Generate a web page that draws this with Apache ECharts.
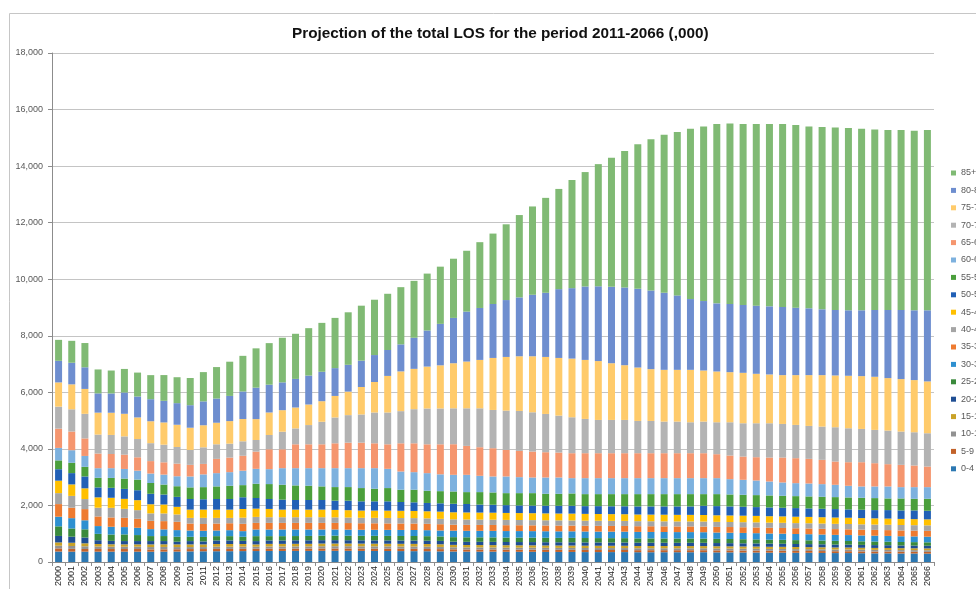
<!DOCTYPE html>
<html>
<head>
<meta charset="utf-8">
<script src="https://cdn.jsdelivr.net/npm/echarts@6/dist/echarts.min.js"></script>
<style>
html,body{margin:0;padding:0;background:#fff;}
#c{width:976px;height:589px;}
</style>
</head>
<body>
<div id="c"></div>
<script>
const years = ['2000','2001','2002','2003','2004','2005','2006','2007','2008','2009',
'2010','2011','2012','2013','2014','2015','2016','2017','2018','2019',
'2020','2021','2022','2023','2024','2025','2026','2027','2028','2029',
'2030','2031','2032','2033','2034','2035','2036','2037','2038','2039',
'2040','2041','2042','2043','2044','2045','2046','2047','2048','2049',
'2050','2051','2052','2053','2054','2055','2056','2057','2058','2059',
'2060','2061','2062','2063','2064','2065','2066'];

const ageGroups = ['0-4','5-9','10-14','15-19','20-24','25-29','30-34','35-39','40-44','45-49','50-54','55-59','60-64','65-69','70-74','75-79','80-84','85+'];

const yTicks = [0,2000,4000,6000,8000,10000,12000,14000,16000,18000];

const age0_4 = [370,365,365,365,365,365,365,363,365,368,375,378,380,382,385,387,390,390,392,392,395,395,395,392,390,388,385,383,380,375,
370,365,365,365,360,360,360,355,355,355,350,350,350,350,345,345,345,345,345,
345,340,340,335,335,330,330,325,325,320,315,315,310,305,305,300,300,295];
const age5_9 = [110,100,95,95,93,93,93,82,82,82,82,79,82,80,80,82,82,82,82,82,82,82,82,82,82,82,82,82,80,80,
78,78,77,77,77,76,76,76,75,75,75,74,74,74,73,73,73,72,72,
72,71,70,70,69,68,68,67,66,66,65,65,64,64,63,63,62,62];
const age10_14 = [95,100,95,85,83,82,82,83,85,78,71,71,78,78,78,70,76,76,76,76,80,80,80,80,80,80,80,80,80,78,
72,72,72,71,71,70,70,70,69,69,69,68,68,68,67,67,67,66,66,
66,66,65,65,64,64,63,63,62,62,61,61,60,60,59,59,58,58];
const age15_19 = [117,115,105,90,85,83,83,93,93,94,93,93,95,95,93,82,92,92,92,92,95,95,95,95,95,95,95,95,95,93,
85,85,85,84,84,84,83,83,83,82,82,82,81,81,81,80,80,80,80,
80,79,78,78,77,76,75,74,73,72,71,70,69,68,67,66,65,65];
const age20_24 = [229,215,205,135,120,117,117,119,115,95,118,107,127,127,110,118,122,122,125,125,120,120,118,118,118,118,118,118,118,118,
113,113,114,114,114,115,115,115,115,116,116,116,116,116,116,116,115,115,115,
115,114,113,112,111,110,108,107,106,105,104,102,101,100,99,97,96,95];
const age25_29 = [340,290,290,225,225,235,212,176,177,176,152,158,152,152,146,175,152,152,150,155,160,160,160,160,160,160,160,160,160,160,
160,160,159,159,158,158,157,157,156,156,155,155,154,154,153,153,152,152,152,
150,148,146,145,143,141,139,137,135,133,131,129,127,126,124,122,121,120];
const age30_34 = [340,365,320,275,275,259,258,246,235,235,223,217,200,211,199,235,235,235,232,227,217,217,215,213,213,213,213,213,212,210,
230,230,230,230,230,230,230,231,231,231,231,230,230,229,229,228,228,227,227,
225,224,223,222,220,219,218,216,215,213,212,210,208,207,205,203,202,200];
const age35_39 = [446,370,395,340,330,329,318,294,293,294,246,241,246,245,259,234,234,234,234,234,234,234,232,230,230,228,228,228,225,222,
210,210,209,209,208,207,206,205,205,204,203,203,202,202,201,201,200,200,200,
200,200,201,201,202,202,202,203,203,203,204,204,204,204,205,205,205,205];
const age40_44 = [388,418,355,310,340,317,305,264,271,258,199,217,199,189,217,211,200,200,200,200,200,195,195,193,193,193,193,193,193,190,
190,189,188,187,186,185,184,183,182,181,180,179,179,178,178,177,177,176,176,
176,177,178,179,180,181,182,183,184,185,186,187,188,189,190,192,193,195];
const age45_49 = [441,405,380,365,355,353,353,322,317,271,293,293,293,293,306,293,293,269,269,269,269,263,260,255,257,259,256,253,250,255,
250,249,248,247,246,245,244,243,242,241,240,239,238,237,236,235,235,234,233,
233,232,231,230,229,228,227,226,225,224,223,222,221,220,218,216,214,212];
const age50_54 = [405,400,420,352,352,352,352,370,352,352,375,364,375,375,416,376,351,352,340,340,340,328,337,327,327,329,312,305,294,294,
301,299,283,281,276,270,270,272,275,278,274,279,278,281,286,290,293,298,299,
326,325,320,316,311,310,306,305,300,299,299,294,295,292,300,301,308,305];
const age55_59 = [312,365,340,340,350,364,376,382,353,376,411,429,446,469,429,504,528,528,516,504,481,480,480,469,446,469,434,446,433,430,
435,421,441,435,425,435,440,422,424,436,425,425,430,430,435,435,435,435,435,
412,424,423,423,424,424,423,423,424,424,423,423,424,424,412,423,411,423];
const age60_64 = [441,445,385,340,345,341,317,334,352,353,387,451,469,481,511,527,528,586,610,622,645,669,669,704,727,680,644,621,622,595,
588,611,576,565,589,565,553,576,576,541,565,565,565,565,565,565,565,565,565,
565,565,541,530,517,494,471,459,458,447,435,412,400,412,424,400,412,412];
const age65_69 = [682,660,620,518,500,506,471,440,435,446,410,370,504,516,528,610,703,668,844,844,844,879,902,902,879,868,997,1020,1020,1062,
1083,1024,1012,1000,941,929,918,894,882,882,882,882,882,882,882,882,882,882,882,
882,847,836,823,824,847,882,883,871,859,824,835,858,823,788,788,765,729];
const age70_74 = [778,787,870,670,675,646,646,634,623,588,528,587,516,492,511,410,504,621,562,680,797,914,973,997,1090,1125,1137,1207,1266,1268,
1270,1329,1376,1352,1388,1412,1388,1353,1306,1271,1212,1176,1176,1176,1141,1141,1118,1118,1094,
1118,1129,1176,1177,1200,1212,1188,1176,1165,1176,1212,1200,1177,1177,1188,1177,1176,1177];
const age75_79 = [856,882,880,776,785,799,764,775,787,787,785,780,762,797,787,739,797,762,739,727,727,761,832,971,1077,1293,1406,1426,1482,1525,
1594,1653,1711,1840,1898,1934,1981,2016,2040,2075,2087,2082,2006,1936,1889,1831,1830,1830,1854,
1807,1796,1772,1784,1749,1726,1726,1761,1796,1820,1831,1856,1867,1879,1856,1856,1845,1833];
const age80_84 = [764,764,765,682,682,752,740,780,764,764,797,845,856,891,975,1112,983,983,1012,1023,1041,984,948,932,954,917,956,1100,1277,1466,
1603,1766,1837,1907,2012,2082,2175,2269,2433,2491,2597,2645,2702,2749,2784,2783,2725,2632,2503,
2456,2409,2410,2398,2409,2409,2410,2386,2363,2328,2316,2316,2328,2362,2409,2444,2468,2515];
const age85plus = [741,775,858,846,811,834,846,851,911,917,961,1035,1113,1210,1260,1390,1470,1578,1595,1677,1729,1776,1857,1944,1957,1988,2023,2012,2012,2023,
2093,2152,2327,2491,2679,2912,3123,3357,3544,3825,4046,4320,4561,4830,5111,5345,5591,5778,6024,
6176,6339,6386,6397,6421,6444,6467,6456,6433,6444,6456,6444,6421,6386,6363,6363,6350,6374];

const seriesValues = [age0_4,age5_9,age10_14,age15_19,age20_24,age25_29,age30_34,age35_39,age40_44,age45_49,age50_54,age55_59,age60_64,age65_69,age70_74,age75_79,age80_84,age85plus];

const colors = ['#2C78B2','#C2622A','#919191','#C9A227','#1F4E93','#3A8A3C','#2E90D0','#EE7B30','#A5A5A5','#FFC000','#2160B6','#4B9F3C','#7DB1DE','#F5966F','#B3B3B3','#FFCB6B','#6E8ECF','#80BA74'];

const chart = echarts.init(document.getElementById('c'), null, {renderer:'canvas'});
const FONT = '"Liberation Sans", Arial, sans-serif';

const series = ageGroups.map((name, i) => ({
  name: name,
  type: 'bar',
  stack: 'total',
  data: seriesValues[i],
  barWidth: 7,
  itemStyle: {color: colors[i]},
  emphasis: {disabled: true},
  animation: false
}));

chart.setOption({
  animation: false,
  textStyle: {fontFamily: FONT},
  title: {
    text: 'Projection of the total LOS for the period 2011-2066 (,000)',
    left: 287,
    top: 21,
    textStyle: {fontSize: 15.3, fontWeight: 'bold', color: '#111', fontFamily: FONT}
  },
  graphic: [{
    type: 'rect',
    shape: {x: 9.5, y: 13.5, width: 1000, height: 620},
    style: {fill: 'none', stroke: '#C6C6C6', lineWidth: 1},
    silent: true
  }],
  legend: {
    orient: 'vertical',
    left: 946,
    top: 163,
    itemWidth: 5,
    itemHeight: 5,
    itemGap: 7.4,
    itemTextGap: 4,
    icon: 'rect',
    data: ageGroups.slice().reverse(),
    textStyle: {fontSize: 9, color: '#595959', lineHeight: 10, fontFamily: FONT},
    selectedMode: false
  },
  grid: {left: 52, right: 42, top: 53, bottom: 25, containLabel: false},
  xAxis: {
    type: 'category',
    data: years,
    axisLine: {lineStyle: {color: '#8C8C8C'}},
    axisTick: {show: true, length: 4, lineStyle: {color: '#8C8C8C'}},
    axisLabel: {interval: 0, rotate: 90, fontSize: 9, color: '#262626', margin: 4, fontFamily: FONT}
  },
  yAxis: {
    type: 'value',
    min: yTicks[0],
    max: yTicks[yTicks.length - 1],
    interval: yTicks[1] - yTicks[0],
    axisLine: {show: true, lineStyle: {color: '#8C8C8C'}},
    axisTick: {show: true, length: 4, lineStyle: {color: '#8C8C8C'}},
    splitLine: {lineStyle: {color: '#C4C4C4'}},
    axisLabel: {
      fontSize: 9, color: '#595959', margin: 9, fontFamily: FONT,
      formatter: v => v.toLocaleString('en-US')
    }
  },
  series: series
});
</script>
</body>
</html>
